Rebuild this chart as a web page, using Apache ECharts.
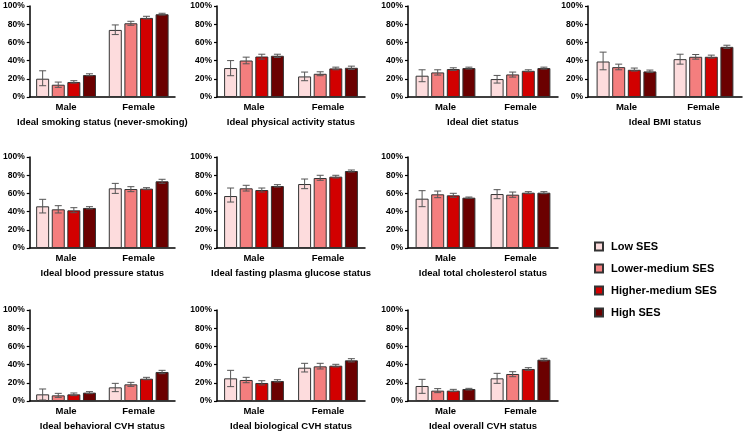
<!DOCTYPE html>
<html>
<head>
<meta charset="utf-8">
<script src="https://cdn.jsdelivr.net/npm/echarts@6/dist/echarts.min.js"></script>
<style>
  html, body { margin: 0; padding: 0; background: #fff; }
  #chart { width: 745px; height: 434px; }
</style>
</head>
<body>
<div id="chart"></div>
<script>
// ---------- DATA ----------
const categories = ['Male', 'Female'];
const sesGroups = ['Low SES', 'Lower-medium SES', 'Higher-medium SES', 'High SES'];
const yTicks = [0, 20, 40, 60, 80, 100];

// Each array: [Male values by SES, Female values by SES] (percent)
const smokingMean = [[20.1, 13.5, 16.4, 24.1], [73.7, 81.0, 86.9, 90.9]];
const smokingLow  = [[12.4, 10.6, 15.3, 23.4], [68.6, 78.8, 85.8, 90.1]];
const smokingHigh = [[28.8, 16.4, 17.9, 25.5], [79.2, 83.2, 88.7, 92.0]];

const activityMean = [[31.8, 40.1, 44.5, 45.3], [22.6, 25.5, 31.4, 32.1]];
const activityLow  = [[23.4, 36.5, 41.6, 43.4], [17.9, 23.4, 29.9, 30.3]];
const activityHigh = [[40.0, 43.8, 47.0, 47.0], [27.4, 27.7, 32.8, 33.9]];

const dietMean = [[23.4, 27.0, 30.7, 31.8], [19.7, 24.8, 28.8, 31.8]];
const dietLow  = [[16.8, 24.1, 29.2, 30.7], [15.3, 21.9, 27.7, 30.7]];
const dietHigh = [[29.9, 29.9, 32.1, 32.8], [23.7, 27.4, 29.9, 32.8]];

const bmiMean = [[39.0, 32.8, 29.9, 28.1], [41.6, 44.2, 44.2, 55.1]];
const bmiLow  = [[29.9, 29.9, 28.5, 27.0], [36.1, 41.6, 42.7, 53.3]];
const bmiHigh = [[49.3, 36.1, 31.8, 29.6], [47.0, 46.7, 46.0, 56.9]];

const bpMean = [[45.8, 42.5, 41.4, 44.0], [65.6, 64.8, 65.2, 73.3]];
const bpLow  = [[38.5, 38.5, 38.8, 42.9], [60.0, 61.9, 64.1, 71.1]];
const bpHigh = [[53.5, 46.5, 44.3, 45.4], [71.0, 67.4, 66.3, 75.5]];

const glucoseMean = [[57.1, 65.6, 63.7, 68.1], [70.3, 76.9, 78.4, 84.6]];
const glucoseLow  = [[50.5, 62.6, 61.5, 67.0], [65.2, 74.4, 76.9, 83.5]];
const glucoseHigh = [[65.9, 68.9, 65.9, 69.6], [75.8, 79.9, 79.9, 85.7]];

const cholMean = [[54.2, 59.0, 57.9, 55.3], [59.3, 58.6, 60.8, 60.8]];
const cholLow  = [[45.4, 55.3, 55.7, 54.6], [54.2, 55.7, 59.7, 59.7]];
const cholHigh = [[63.0, 62.6, 60.1, 56.0], [64.1, 61.5, 61.9, 61.9]];

const behavMean = [[7.3, 6.2, 7.3, 9.2], [15.0, 18.3, 24.5, 31.9]];
const behavLow  = [[1.1, 4.0, 5.9, 8.1], [10.3, 16.1, 23.4, 30.0]];
const behavHigh = [[13.2, 8.4, 8.8, 10.3], [19.4, 20.5, 26.0, 33.7]];

const bioMean = [[24.9, 23.1, 19.8, 22.0], [36.6, 38.1, 38.8, 44.7]];
const bioLow  = [[15.8, 20.1, 17.6, 20.9], [31.9, 35.2, 37.4, 42.9]];
const bioHigh = [[33.7, 26.0, 22.3, 23.4], [41.4, 41.4, 40.3, 46.5]];

const overallMean = [[16.5, 11.4, 11.4, 13.2], [24.9, 29.7, 35.2, 45.4]];
const overallLow  = [[8.4, 9.2, 10.3, 12.1], [19.4, 26.7, 33.7, 44.0]];
const overallHigh = [[23.8, 13.6, 12.8, 13.9], [30.4, 32.2, 36.6, 46.9]];

const panelTitles = [
  'Ideal smoking status (never-smoking)',
  'Ideal physical activity status',
  'Ideal diet status',
  'Ideal BMI status',
  'Ideal blood pressure status',
  'Ideal fasting plasma glucose status',
  'Ideal total cholesterol status',
  'Ideal behavioral CVH status',
  'Ideal biological CVH status',
  'Ideal overall CVH status'
];
const panelData = [
  [smokingMean, smokingLow, smokingHigh],
  [activityMean, activityLow, activityHigh],
  [dietMean, dietLow, dietHigh],
  [bmiMean, bmiLow, bmiHigh],
  [bpMean, bpLow, bpHigh],
  [glucoseMean, glucoseLow, glucoseHigh],
  [cholMean, cholLow, cholHigh],
  [behavMean, behavLow, behavHigh],
  [bioMean, bioLow, bioHigh],
  [overallMean, overallLow, overallHigh]
];

// ---------- LAYOUT / STYLE ----------
const sesColors = ['#FDDCDD', '#F47E7E', '#D20000', '#6B0000'];
const colLeft = [27, 217, 408, 588];
const colWidth = [148, 148, 150, 154];
const rowTop = [6, 157, 310];
const plotHeight = 91;
const panelPos = [[0,0],[0,1],[0,2],[0,3],[1,0],[1,1],[1,2],[2,0],[2,1],[2,2]];
const BAR_W = 13;
const BAR_GAP_PCT = 0.2;
const FONT = '"Liberation Sans", Arial, sans-serif';

const grids = [], xAxes = [], yAxes = [], series = [];

panelPos.forEach(([r, c], k) => {
  grids.push({ left: colLeft[c], top: rowTop[r], width: colWidth[c], height: plotHeight });
  xAxes.push({
    type: 'category', gridIndex: k, data: categories,
    axisLine: { lineStyle: { color: '#000', width: 1.5 } },
    axisTick: { show: false },
    axisLabel: { color: '#000', fontWeight: 'bold', fontSize: 9.5, fontFamily: FONT, margin: 5 },
    name: panelTitles[k], nameLocation: 'middle', nameGap: 20,
    nameTextStyle: { color: '#000', fontWeight: 'bold', fontSize: 9.5, fontFamily: FONT }
  });
  yAxes.push({
    type: 'value', gridIndex: k, min: yTicks[0], max: yTicks[yTicks.length - 1],
    interval: yTicks[1] - yTicks[0],
    axisLine: { show: true, lineStyle: { color: '#000', width: 1.5 } },
    axisTick: { show: true, length: 3, lineStyle: { color: '#000', width: 1.2 } },
    splitLine: { show: false },
    axisLabel: { formatter: '{value}%', color: '#000', fontWeight: 'bold', fontSize: 8.5, fontFamily: FONT, margin: 5 }
  });
  const [mean, low, high] = panelData[k];
  sesGroups.forEach((ses, s) => {
    series.push({
      type: 'bar', name: ses, xAxisIndex: k, yAxisIndex: k,
      barWidth: BAR_W, barGap: (BAR_GAP_PCT * 100) + '%',
      data: categories.map((_, ci) => mean[ci][s]),
      itemStyle: { color: sesColors[s], borderColor: '#333', borderWidth: 1 },
      silent: true
    });
    const offset = (s - 1.5) * BAR_W * (1 + BAR_GAP_PCT);
    series.push({
      type: 'custom', name: ses + ' error', xAxisIndex: k, yAxisIndex: k, z: 5,
      data: categories.map((_, ci) => [ci, low[ci][s], high[ci][s]]),
      encode: { x: 0, y: [1, 2] },
      silent: true,
      renderItem: function (params, api) {
        const ci = api.value(0);
        const pLo = api.coord([ci, api.value(1)]);
        const pHi = api.coord([ci, api.value(2)]);
        const x = pLo[0] + offset;
        const cap = 3.5;
        const st = { stroke: '#555', lineWidth: 1 };
        return {
          type: 'group',
          children: [
            { type: 'line', shape: { x1: x, y1: pLo[1], x2: x, y2: pHi[1] }, style: st },
            { type: 'line', shape: { x1: x - cap, y1: pLo[1], x2: x + cap, y2: pLo[1] }, style: st },
            { type: 'line', shape: { x1: x - cap, y1: pHi[1], x2: x + cap, y2: pHi[1] }, style: st }
          ]
        };
      }
    });
  });
});

const chart = echarts.init(document.getElementById('chart'), null, { renderer: 'canvas' });
chart.setOption({
  animation: false,
  backgroundColor: '#fff',
  textStyle: { fontFamily: FONT },
  legend: {
    data: sesGroups, orient: 'vertical', left: 589, top: 236,
    itemWidth: 8, itemHeight: 8, itemGap: 11, icon: 'rect',
    selectedMode: false,
    textStyle: { color: '#000', fontWeight: 'bold', fontSize: 11, fontFamily: FONT, padding: [0, 0, 0, 3] }
  },
  grid: grids, xAxis: xAxes, yAxis: yAxes, series: series
});
</script>
</body>
</html>
